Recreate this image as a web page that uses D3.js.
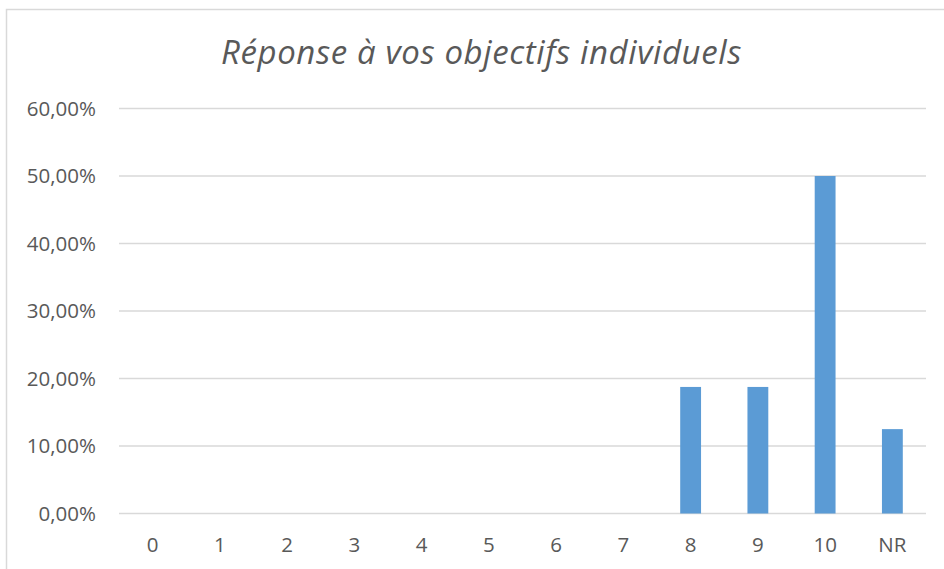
<!doctype html>
<html>
<head>
<meta charset="utf-8" />
<title>Réponse à vos objectifs individuels</title>
<script src="https://cdn.jsdelivr.net/npm/d3@7"></script>
<style>
  body { margin: 0; background: #fff; }
  svg text { font-family: "Open Sans", "Noto Sans", sans-serif; fill: #595959; }
</style>
</head>
<body>
<svg id="chart" width="944" height="569"></svg>
<script>
// data
var categories = ['0', '1', '2', '3', '4', '5', '6', '7', '8', '9', '10', 'NR'];
var values = [0, 0, 0, 0, 0, 0, 0, 0, 0.1875, 0.1875, 0.5, 0.125];
var yTicks = [0, 0.1, 0.2, 0.3, 0.4, 0.5, 0.6];
var title = 'Réponse à vos objectifs individuels';

var svg = d3.select('#chart');
var margin = {left: 119, right: 18, top: 108.5, bottom: 55.5};
var width = 944 - margin.left - margin.right;
var height = 569 - margin.top - margin.bottom;

// outer chart frame (only top and left edges are inside the window)
svg.append('rect')
    .attr('x', 6.5).attr('y', 9.5)
    .attr('width', 960).attr('height', 600)
    .attr('fill', 'none')
    .attr('stroke', '#d9d9d9')
    .attr('stroke-width', 1.5);

svg.append('text')
    .attr('x', 481.5).attr('y', 64)
    .attr('text-anchor', 'middle')
    .style('font-style', 'italic')
    .style('font-size', '33px')
    .style('letter-spacing', '0.6px')
    .text(title);

var g = svg.append('g').attr('transform', 'translate(' + margin.left + ',' + margin.top + ')');

var x = d3.scaleBand().domain(categories).range([0, width]).paddingInner(0.69).paddingOuter(0.345);
var y = d3.scaleLinear().domain([0, 0.6]).range([height, 0]);

var fmt = function(d) { return (d * 100).toFixed(2).replace('.', ',') + '%'; };

// gridlines
g.selectAll('line.grid').data(yTicks).enter().append('line')
    .attr('class', 'grid')
    .attr('x1', 0).attr('x2', width)
    .attr('y1', function(d) { return y(d); })
    .attr('y2', function(d) { return y(d); })
    .attr('stroke', '#d9d9d9')
    .attr('stroke-width', 1.5);

// y labels
var yAxis = d3.axisLeft(y).tickValues(yTicks).tickFormat(fmt).tickSize(0).tickPadding(23);
g.append('g').call(yAxis)
    .call(function(s) { s.select('.domain').remove(); })
    .selectAll('text')
    .style('font-size', '20.5px')
    .attr('fill', '#595959');

// x labels
var xAxis = d3.axisBottom(x).tickSize(0).tickPadding(24);
g.append('g').attr('transform', 'translate(0,' + height + ')').call(xAxis)
    .call(function(s) { s.select('.domain').remove(); })
    .selectAll('text')
    .style('font-size', '20.5px')
    .attr('fill', '#595959');

// bars
g.selectAll('rect.bar').data(values).enter().append('rect')
    .attr('class', 'bar')
    .attr('x', function(d, i) { return x(categories[i]); })
    .attr('width', x.bandwidth())
    .attr('y', function(d) { return y(d); })
    .attr('height', function(d) { return height - y(d); })
    .attr('fill', '#5b9bd5');
</script>
</body>
</html>
